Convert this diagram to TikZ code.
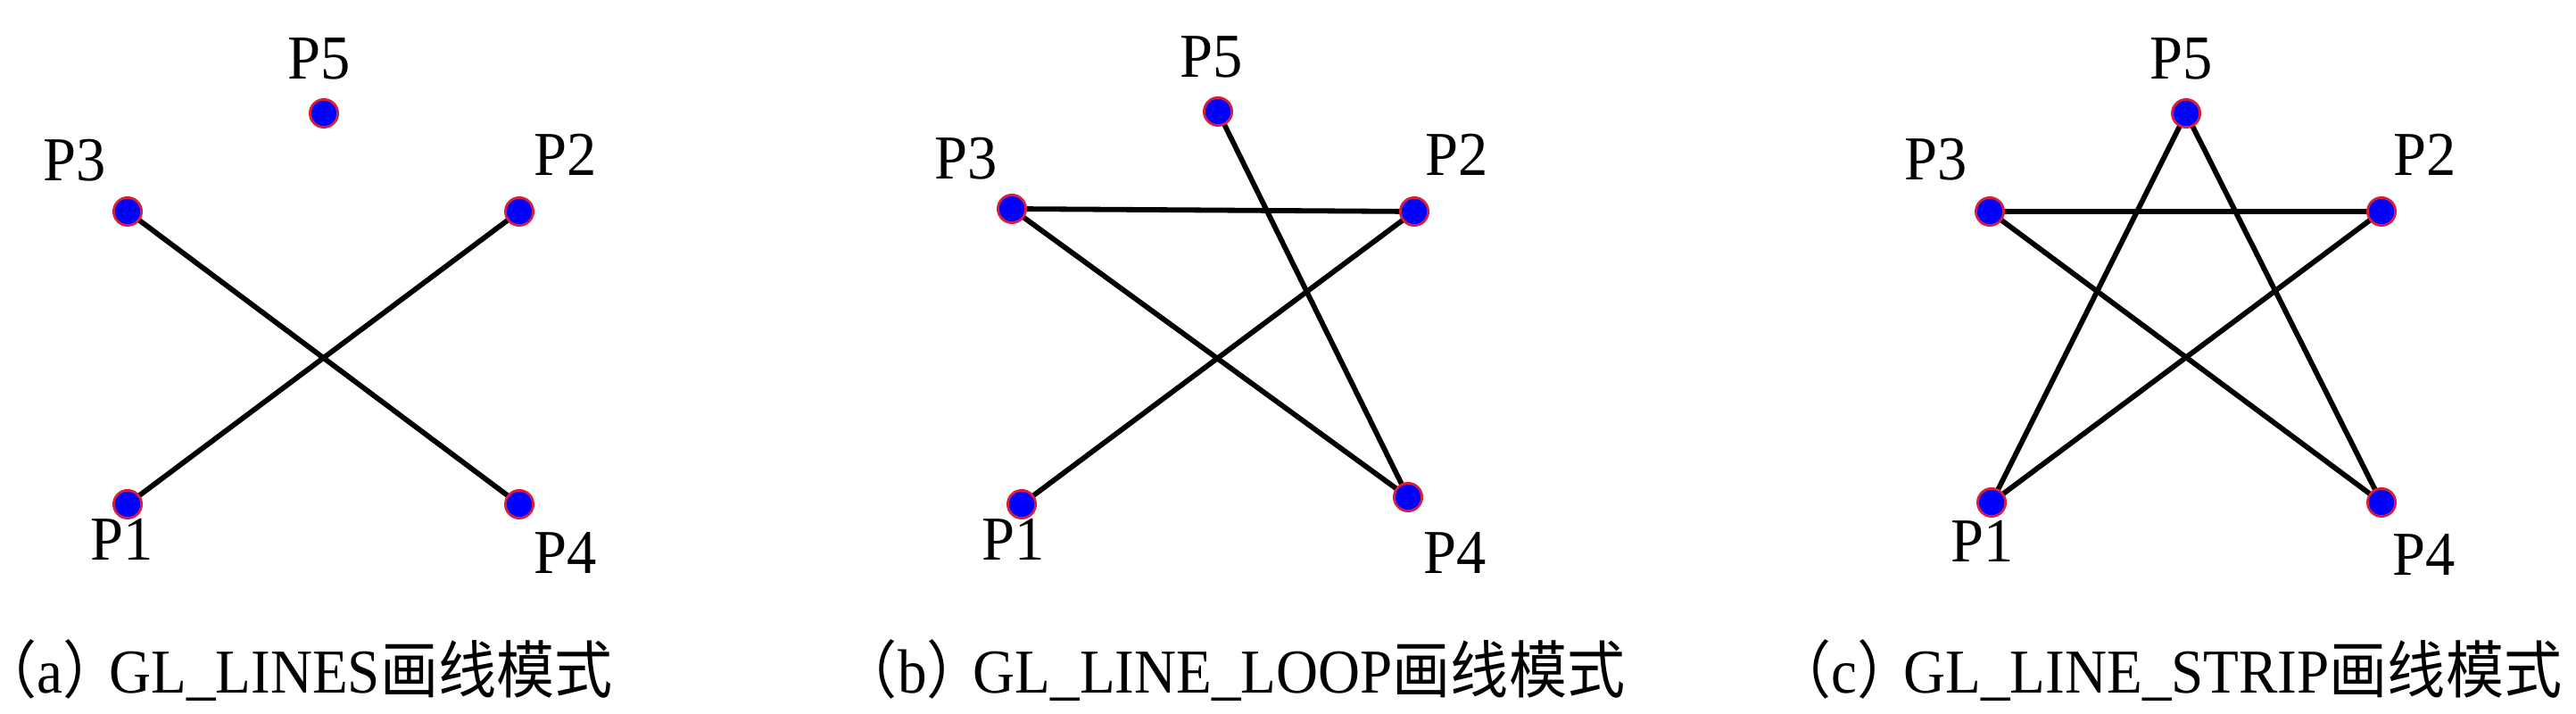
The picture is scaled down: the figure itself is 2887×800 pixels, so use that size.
\documentclass[tikz,border=0pt]{standalone}
\usepackage{fontspec}
\setmainfont{LiberationSerif}[Extension=.ttf,UprightFont=*-Regular,BoldFont=*-Bold,ItalicFont=*-Italic,BoldItalicFont=*-BoldItalic]
\newfontfamily\cjk{Noto Sans CJK SC}
\newfontfamily\cjkhalf{Noto Sans CJK SC}[RawFeature=+halt]
\usetikzlibrary{backgrounds}
\definecolor{dotblue}{RGB}{0,0,255}
\definecolor{dotrim}{RGB}{215,30,60}
\newcommand\lparen{{\cjkhalf （}}
\newcommand\rparen{{\cjkhalf ）}\hspace{0.3em}}
\newcommand\lbl[1]{\scalebox{0.95}[1]{#1}}
\newcommand\captxt[1]{\scalebox{0.93}[1]{#1}}
\begin{document}
\begin{tikzpicture}[x=0.25pt,y=-0.25pt,
  pdot/.style={circle,fill=dotblue,draw=dotrim,line width=0.7pt,minimum size=7.8pt,inner sep=0pt},
  plabel/.style={anchor=base,inner sep=0pt,font=\fontsize{17.5pt}{21pt}\selectfont},
  capleft/.style={anchor=base west,inner sep=0pt,font=\fontsize{17.5pt}{21pt}\selectfont},
  capright/.style={anchor=base east,inner sep=0pt,font=\fontsize{17.5pt}{21pt}\selectfont},
  seg/.style={line width=1.45pt,black}]
\useasboundingbox (0,0) rectangle (2887,800);
% ---------- panel a ----------
\node[pdot] (a1) at (143,565) {};
\node[pdot] (a2) at (582,237) {};
\node[pdot] (a3) at (143,237) {};
\node[pdot] (a4) at (582,565) {};
\node[pdot] (a5) at (363,127) {};
\node[plabel] (la1) at (137,628) {\lbl{P1}};
\node[plabel] (la2) at (634,197) {\lbl{P2}};
\node[plabel] (la3) at (84,203) {\lbl{P3}};
\node[plabel] (la4) at (634,643) {\lbl{P4}};
\node[plabel] (la5) at (358,89) {\lbl{P5}};
\begin{scope}[on background layer]
\draw[seg] (a3.center) -- (a4.center);
\draw[seg] (a2.center) -- (a1.center);
\end{scope}
\node[capleft] (capa) at (8,776) {\captxt{\lparen a\rparen GL\_LINES{\cjk 画线模式}}};
% ---------- panel b ----------
\node[pdot] (b1) at (1145,565) {};
\node[pdot] (b2) at (1585,237) {};
\node[pdot] (b3) at (1134,234) {};
\node[pdot] (b4) at (1578,557) {};
\node[pdot] (b5) at (1365,125) {};
\node[plabel] (lb1) at (1136,628) {\lbl{P1}};
\node[plabel] (lb2) at (1633,197) {\lbl{P2}};
\node[plabel] (lb3) at (1083,201) {\lbl{P3}};
\node[plabel] (lb4) at (1631,643) {\lbl{P4}};
\node[plabel] (lb5) at (1358,87) {\lbl{P5}};
\begin{scope}[on background layer]
\draw[seg] (b1.center) -- (b2.center);
\draw[seg] (b2.center) -- (b3.center);
\draw[seg] (b3.center) -- (b4.center);
\draw[seg] (b4.center) -- (b5.center);
\end{scope}
\node[capright] (capb) at (1822,776) {\captxt{\lparen b\rparen GL\_LINE\_LOOP{\cjk 画线模式}}};
% ---------- panel c ----------
\node[pdot] (c1) at (2232,563) {};
\node[pdot] (c2) at (2669,237) {};
\node[pdot] (c3) at (2230,237) {};
\node[pdot] (c4) at (2669,563) {};
\node[pdot] (c5) at (2450,127) {};
\node[plabel] (lc1) at (2222,629) {\lbl{P1}};
\node[plabel] (lc2) at (2718,197) {\lbl{P2}};
\node[plabel] (lc3) at (2170,202) {\lbl{P3}};
\node[plabel] (lc4) at (2717,644) {\lbl{P4}};
\node[plabel] (lc5) at (2445,89) {\lbl{P5}};
\begin{scope}[on background layer]
\draw[seg] (c1.center) -- (c2.center);
\draw[seg] (c2.center) -- (c3.center);
\draw[seg] (c3.center) -- (c4.center);
\draw[seg] (c4.center) -- (c5.center);
\draw[seg] (c5.center) -- (c1.center);
\end{scope}
\node[capright] (capc) at (2872,776) {\captxt{\lparen c\rparen GL\_LINE\_STRIP{\cjk 画线模式}}};
\end{tikzpicture}
\end{document}
